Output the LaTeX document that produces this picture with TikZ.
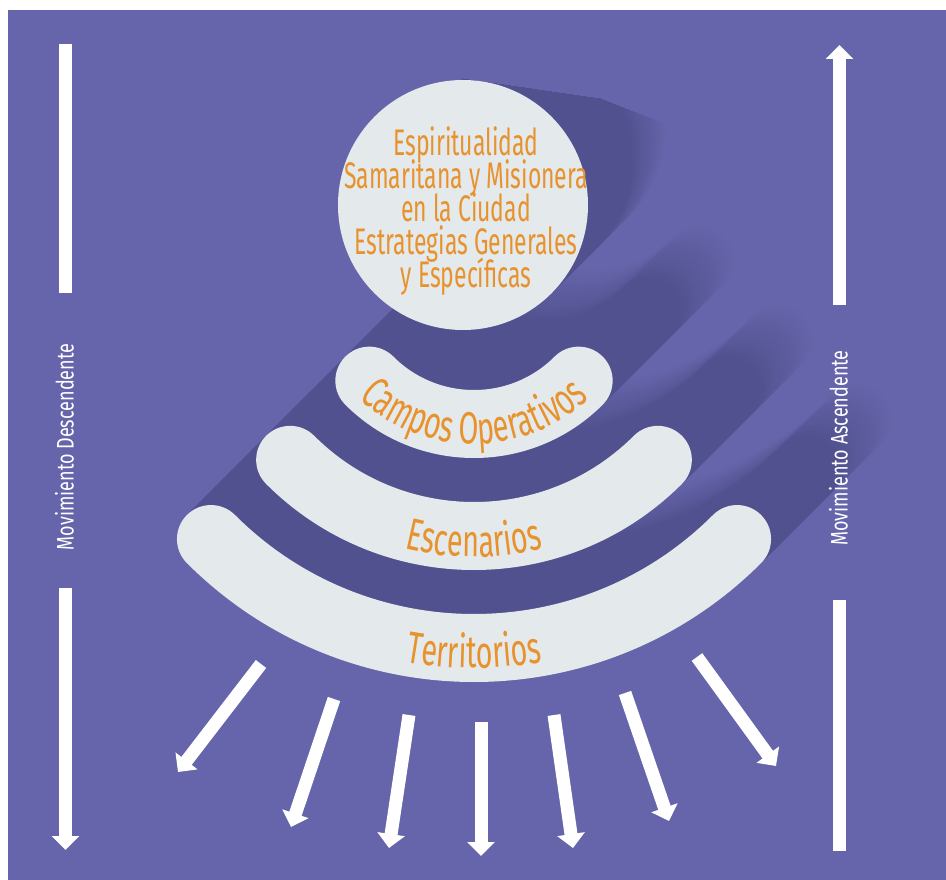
\documentclass[tikz,border=0pt]{standalone}
\usepackage{fontspec}
\usepackage{xcolor}
\usepackage{tikz}
\usetikzlibrary{calc, arrows.meta, decorations.text}
\newfontfamily\labelfont{Fira Sans}[FakeStretch=0.62]
\newfontfamily\bandfont{Fira Sans}[FakeStretch=0.64]
\newfontfamily\sidefont{Fira Sans}[FakeStretch=0.75]
\newcommand\tightlines{\lineskiplimit=-40pt\relax}
\definecolor{bgpurple}{HTML}{6665AB}
\definecolor{shadowpurple}{HTML}{52518F}
\definecolor{discgrey}{HTML}{E4E9EC}
\definecolor{labelorange}{HTML}{E8922D}

\begin{document}
\begin{tikzpicture}[x=1pt, y=1pt,
    band/.style={draw=discgrey, line width=68pt, line cap=round},
    bar/.style={draw=white, line width=13pt},
    arrowbar/.style={bar, -{Triangle[length=14pt, width=27pt]}},
    sidetext/.style={text=white, rotate=90, inner sep=0pt, font=\sidefont\fontsize{24}{24}\selectfont}]
    % Frame and background
    \useasboundingbox (0,0) rectangle (946,-880);
    \fill[white] (0,0) rectangle (946,-880);
    \fill[bgpurple] (8,-10) rectangle (946,-880);
    \coordinate (hub) at (474,-276);
    \coordinate (disc) at (463,-205);
    % Long shadows, far copies first
    \foreach \k in {40,39,...,1} {
        \pgfmathtruncatemacro\shd{min(100,(40-\k)*100/18)}
        \colorlet{shadowstep}{shadowpurple!\shd!bgpurple}
        \begin{scope}
            \clip (462,-79) -- (600,-99) -- (680,-130) -- (946,-130) -- (946,-880) -- (462,-880) -- cycle;
            \fill[shadowstep] ($(disc)+(\k*2,\k*2)$) circle[radius=125];
        \end{scope}
        \foreach \r in {148,260,372} {
            \draw[band, draw=shadowstep] ($(hub)+(225:\r)+(\k*3.1,\k*3.1)$) arc[start angle=225, end angle=315, radius=\r];
        }
    }
    % Disc and bands
    \fill[discgrey] (disc) circle[radius=125];
    \foreach \r in {148,260,372} {
        \draw[band] ($(hub)+(225:\r)$) arc[start angle=225, end angle=315, radius=\r];
    }
    % Labels
    \node[align=center, text=labelorange, inner sep=0pt,
        font=\labelfont\fontsize{37}{33}\selectfont\tightlines] (core) at (466,-211)
        {Espiritualidad\\Samaritana y Misionera\\en la Ciudad\\Estrategias Generales\\y Específicas};
    \path[decorate, decoration={text along path, text align=center,
        text={|\bandfont\fontsize{45}{45}\selectfont\color{labelorange}|Campos Operativos}}]
        ($(hub)+(225:168)$) arc[start angle=225, end angle=315, radius=168];
    \path[decorate, decoration={text along path, text align=center,
        text={|\bandfont\fontsize{45}{45}\selectfont\color{labelorange}|Escenarios}}]
        ($(hub)+(225:281)$) arc[start angle=225, end angle=315, radius=281];
    \path[decorate, decoration={text along path, text align=center,
        text={|\bandfont\fontsize{45}{45}\selectfont\color{labelorange}|Territorios}}]
        ($(hub)+(225:392)$) arc[start angle=225, end angle=315, radius=392];
    % Side bars
    \draw[bar] (65.5,-44) -- (65.5,-293);
    \draw[arrowbar] (65.5,-588) -- (65.5,-850);
    \draw[arrowbar] (839.5,-305) -- (839.5,-45);
    \draw[bar] (839.5,-600) -- (839.5,-851);
    \node[sidetext] (down) at (64.5,-447) {Movimiento Descendente};
    \node[sidetext] (up) at (838.5,-448) {Movimiento Ascendente};
    % Rays below the bands
    \foreach \xa/\ya/\xb/\yb in {261/664/178/772, 334/699/291/827, 409/715/389/848, 481/722/481/856,
        554/715/573/848, 625/693/669/821, 697/657/776/766} {
        \draw[arrowbar] (\xa,-\ya) -- (\xb,-\yb);
    }
\end{tikzpicture}
\end{document}
